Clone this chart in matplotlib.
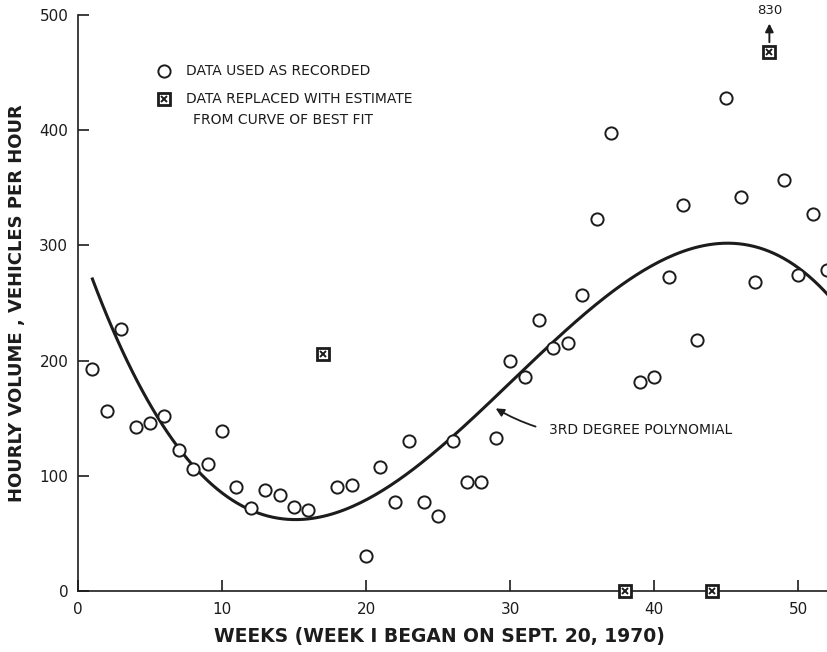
import numpy as np
import matplotlib
matplotlib.use("Agg")
import matplotlib.pyplot as plt

# semanas con dato usado tal cual
weeks_recorded = [1, 2, 3, 4, 5, 6, 7, 8, 9, 10, 11, 12, 13, 14, 15, 16,
                  18, 19, 20, 21, 22, 23, 24, 25, 26, 27, 28, 29, 30, 31, 32, 33, 34, 35, 36, 37,
                  39, 40, 41, 42, 43, 45, 46, 47, 49, 50, 51, 52]
volume_recorded = [193, 156, 227, 142, 146, 152, 122, 106, 110, 139, 90, 72, 88, 83, 73, 70,
                   90, 92, 30, 108, 77, 130, 77, 65, 130, 95, 95, 133, 200, 186, 235, 211, 215, 257, 323, 398,
                   181, 186, 273, 335, 218, 428, 342, 268, 357, 274, 327, 279]

# semanas reemplazadas (la 48 fuera de escala: 830)
weeks_replaced = [17, 38, 44, 48]
volume_replaced = [206, 0, 0, 468]
offscale_label = "830"

# polinomio de 3er grado (coeficientes, potencia creciente)
poly_coef = [305.6, -36.32, 1.6053, -0.017778]

ink = "#1c1c1c"

fig = plt.figure(figsize=(8.27, 6.52), dpi=100)
ax = fig.add_axes([78 / 827, 61 / 652, 749 / 827, 576 / 652])

t = np.linspace(1, 53, 300)
curve = np.polynomial.polynomial.polyval(t, poly_coef)
ax.plot(t, curve, color=ink, lw=2.2, zorder=2)

ax.plot(weeks_recorded, volume_recorded, 'o', ms=8.8, mfc='white', mec=ink, mew=1.4, zorder=3)

def replaced_marker(x, y, **kw):
    ax.plot(x, y, 's', ms=8, mfc='white', mec=ink, mew=2.0, zorder=4, **kw)
    ax.plot(x, y, 'x', ms=5, mec=ink, mew=1.4, zorder=5, **kw)

replaced_marker(weeks_replaced, volume_replaced, clip_on=False)

# flecha del valor fuera de escala
ax.annotate("", xy=(weeks_replaced[3], 495), xytext=(weeks_replaced[3], 474),
            arrowprops=dict(arrowstyle='-|>', color=ink, lw=1.4, mutation_scale=12),
            annotation_clip=False)
ax.text(weeks_replaced[3], 498, offscale_label, ha='center', va='bottom', fontsize=9.5, color=ink, clip_on=False)

# etiqueta del polinomio
ax.annotate("3RD DEGREE POLYNOMIAL", xy=(29.0, 158.5), xytext=(32.7, 139.5),
            ha='left', va='center', fontsize=10, color=ink,
            arrowprops=dict(arrowstyle='-|>', color=ink, lw=1.3, mutation_scale=12,
                            shrinkA=8, shrinkB=0, connectionstyle='arc3,rad=-0.2'))

# leyenda manual
ax.plot([6.0], [451], 'o', ms=8.8, mfc='white', mec=ink, mew=1.4, clip_on=False)
ax.text(7.5, 451, "DATA USED AS RECORDED", ha='left', va='center', fontsize=10, color=ink)
replaced_marker([6.0], [427])
ax.text(7.5, 427, "DATA REPLACED WITH ESTIMATE", ha='left', va='center', fontsize=10, color=ink)
ax.text(8.0, 409, "FROM CURVE OF BEST FIT", ha='left', va='center', fontsize=10, color=ink)

ax.set_xlim(0, 52)
ax.set_ylim(0, 500)
ax.set_xticks([0, 10, 20, 30, 40, 50])
ax.set_yticks([0, 100, 200, 300, 400, 500])
ax.tick_params(axis='both', direction='in', length=8, width=1.2, color=ink, labelcolor=ink, labelsize=11)
ax.tick_params(axis='x', pad=8)
ax.tick_params(axis='y', pad=7)

for s in ['top', 'right']:
    ax.spines[s].set_visible(False)
for s in ['left', 'bottom']:
    ax.spines[s].set_linewidth(1.2)
    ax.spines[s].set_color(ink)

ax.set_xlabel("WEEKS (WEEK I BEGAN ON SEPT. 20, 1970)", fontsize=13.5, fontweight='bold', color=ink)
ax.xaxis.set_label_coords(0.482, -0.079)
ax.xaxis.label.set_va('center')
ax.set_ylabel("HOURLY VOLUME , VEHICLES PER HOUR", fontsize=13, fontweight='bold', color=ink)
ax.yaxis.set_label_coords(-61 / 749, 0.5)
ax.yaxis.label.set_va('center')

fig.savefig("out.png", dpi=100)
